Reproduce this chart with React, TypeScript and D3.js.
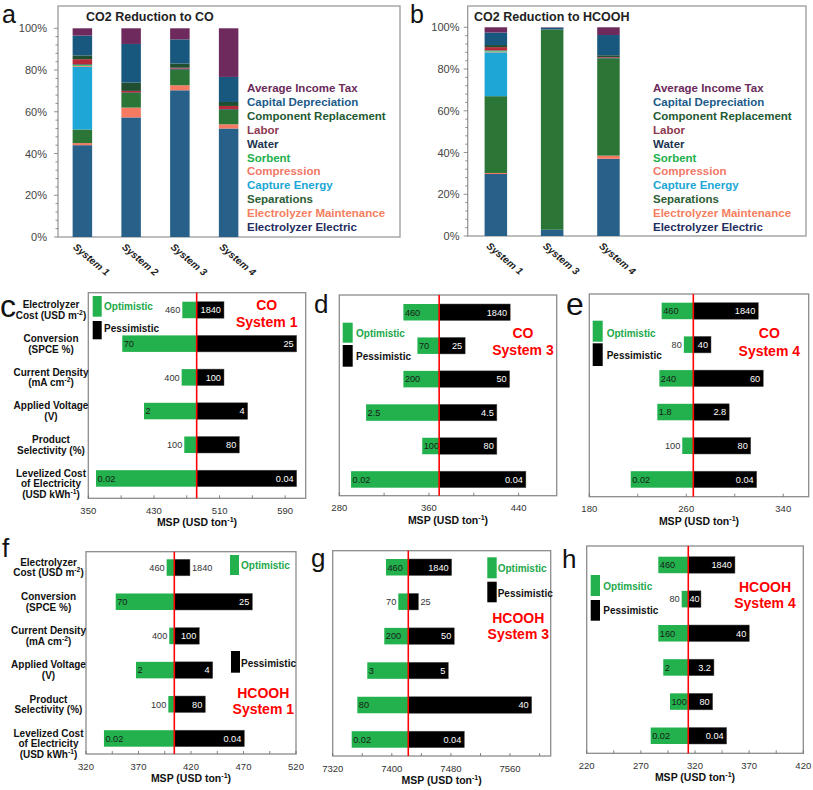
import React from "react";
import * as d3 from "d3";

const FONT = "'Liberation Sans', Arial, Helvetica, sans-serif";

// ---------- Panel a / b data ----------
const costKeys = [
  "Electrolyzer Electric",
  "Electrolyzer Maintenance",
  "Separations",
  "Capture Energy",
  "Compression",
  "Sorbent",
  "Water",
  "Labor",
  "Component Replacement",
  "Capital Depreciation",
  "Average Income Tax",
];
const barColors = ["#27618a", "#f47a62", "#2b7636", "#1ea6d6", "#f08070", "#4cc46a", "#1a3550", "#b72a3a", "#1f4f30", "#18587f", "#6e2a5c"];
const legendColors = ["#1f2d5e", "#f57e60", "#2c5e35", "#1aa7d6", "#f07868", "#22b04b", "#1d3550", "#8c3a50", "#1e5a32", "#1b5b8a", "#6b2a5a"];

const coSystems = ["System 1", "System 2", "System 3", "System 4"];
const coSystem1 = [44, 1, 6.5, 30, 0.4, 0.6, 0.3, 2.4, 1.8, 9.5, 3.5];
const coSystem2 = [57.3, 4.7, 7, 0, 0, 0, 0.3, 0.7, 4, 18.5, 7.5];
const coSystem3 = [70.3, 2.4, 7.5, 0, 0, 0, 0.5, 0.4, 2, 11.6, 5.3];
const coSystem4 = [52, 2, 7, 0, 0, 0, 0.3, 1.5, 1.9, 12, 23.3];

const hcoohSystems = ["System 1", "System 3", "System 4"];
const hcoohSystem1 = [29.7, 0.5, 36.8, 21, 0.3, 0.5, 0.2, 1.5, 1, 6, 2.5];
const hcoohSystem3 = [3, 0, 95.8, 0, 0, 0, 0, 0, 0.2, 0.8, 0.2];
const hcoohSystem4 = [37, 1.5, 46.6, 0, 0, 0, 0.3, 0.3, 0.9, 9.7, 3.7];

const percentTicks = [0, 20, 40, 60, 80, 100];

// ---------- Tornado data ----------
const rowLabels = [
  ["Electrolyzer", "Cost (USD m{-2})"],
  ["Conversion", "(SPCE %)"],
  ["Current Density", "(mA cm{-2})"],
  ["Applied Voltage", "(V)"],
  ["Product", "Selectivity (%)"],
  ["Levelized Cost", "of Electricity", "(USD kWh{-1})"],
];

const cBase = 482.1;
const cOpt = [464.6, 391.4, 463.8, 417.9, 467, 359.4];
const cPess = [515.4, 604, 515.4, 544.3, 534.1, 604];
const cOptLabels = ["460", "70", "400", "2", "100", "0.02"];
const cPessLabels = ["1840", "25", "100", "4", "80", "0.04"];
const cTicks = [350, 430, 510, 590];

const dBase = 369.1;
const dOpt = [337.2, 349.7, 337.2, 303.9, 354.0, 290.5];
const dPess = [432.5, 392.3, 432, 420.6, 420.6, 446.5];
const dOptLabels = ["460", "70", "200", "2.5", "100", "0.02"];
const dPessLabels = ["1840", "25", "50", "4.5", "80", "0.04"];
const dTicks = [280, 360, 440];

const eBase = 265.8;
const eOpt = [239.7, 258, 237.8, 236.1, 256.7, 214.2];
const ePess = [319.4, 280.4, 323.5, 295.4, 313.2, 318.1];
const eOptLabels = ["460", "80", "240", "1.8", "100", "0.02"];
const ePessLabels = ["1840", "40", "60", "2.8", "80", "0.04"];
const eTicks = [180, 260, 340];

const fBase = 404.1;
const fOpt = [396.8, 348.3, 399.3, 367.6, 398.4, 337.1];
const fPess = [419, 478.4, 427.9, 440.7, 433.6, 470.8];
const fOptLabels = ["460", "70", "400", "2", "100", "0.02"];
const fPessLabels = ["1840", "25", "100", "4", "80", "0.04"];
const fTicks = [320, 370, 420, 470, 520];

const gBase = 7422.3;
const gOpt = [7392.1, 7408.8, 7389.8, 7366.8, 7353.3, 7345.7];
const gPess = [7481, 7436, 7484.5, 7476.4, 7589.3, 7498.1];
const gOptLabels = ["460", "70", "200", "3", "80", "0.02"];
const gPessLabels = ["1840", "25", "50", "5", "40", "0.04"];
const gTicks = [7320, 7400, 7480, 7560];

const hBase = 313.8;
const hOpt = [286.1, 307.7, 286.1, 290.7, 296.9, 279.1];
const hPess = [356.9, 325.5, 370.1, 337.5, 336.3, 349.2];
const hOptLabels = ["460", "80", "160", "2", "100", "0.02"];
const hPessLabels = ["1840", "40", "40", "3.2", "80", "0.04"];
const hTicks = [220, 270, 320, 370, 420];

// ---------- helpers ----------
function textW(s: string, fs: number) {
  let w = 0;
  for (const ch of s) w += ch === "." ? 0.278 : 0.556;
  return w * fs;
}

function Rich({ s, fs }: { s: string; fs: number }) {
  const parts = s.split(/(\{[^}]*\})/).filter((p) => p.length > 0);
  let prevSup = false;
  const out: any[] = [];
  parts.forEach((p, i) => {
    if (p.startsWith("{")) {
      out.push(
        <tspan key={i} fontSize={fs * 0.68} dy={-fs * 0.4}>
          {p.slice(1, -1)}
        </tspan>
      );
      prevSup = true;
    } else {
      out.push(
        <tspan key={i} dy={prevSup ? fs * 0.4 : 0}>
          {p}
        </tspan>
      );
      prevSup = false;
    }
  });
  return <>{out}</>;
}

// ---------- stacked panel ----------
function StackPanel(props: any) {
  const { letter, letterX, letterY, title, titleX, systems, shares, left, right, top, bottom, y100, bandStart, step, tickLabelX, legendX } = props;
  const y = d3.scaleLinear().domain([0, 100]).range([bottom, y100]);
  const x = d3
    .scaleBand<string>()
    .domain(systems)
    .range([bandStart, bandStart + step * systems.length])
    .paddingInner(0.6)
    .paddingOuter(0.3);
  const rows = systems.map((s: string, i: number) => {
    const o: any = { system: s };
    costKeys.forEach((k, j) => (o[k] = shares[i][j]));
    return o;
  });
  const series = d3.stack<any>().keys(costKeys)(rows);
  const minor = d3.range(0, 101, 4);
  const legendOrder = costKeys.map((_, i) => i).reverse();
  return (
    <g>
      <text x={letterX} y={letterY} fontSize={25} fill="#111">
        {letter}
      </text>
      <rect x={left} y={top} width={right - left} height={bottom - top} fill="#fff" stroke="#9a9a9a" strokeWidth={1.3} />
      <text x={titleX} y={21} fontSize={12.5} fontWeight="bold" fill="#222">
        CO<tspan>2</tspan> {title}
      </text>
      {series.map((ser, k) =>
        ser.map((d, i) =>
          d[1] - d[0] > 0 ? (
            <rect
              key={`${k}-${i}`}
              x={x(systems[i])}
              y={y(d[1])}
              width={x.bandwidth()}
              height={y(d[0]) - y(d[1])}
              fill={barColors[k]}
            />
          ) : null
        )
      )}
      {minor.map((t) => (
        <line key={"m" + t} x1={left - (t % 20 === 0 ? 4 : 2.5)} x2={left} y1={y(t)} y2={y(t)} stroke="#777" strokeWidth={0.8} />
      ))}
      {percentTicks.map((t) => (
        <text key={"t" + t} x={tickLabelX} y={y(t) + 4} fontSize={11} textAnchor="end" fill="#444">
          {t}%
        </text>
      ))}
      {systems.map((s: string) => {
        const cx = (x(s) as number) + x.bandwidth() / 2;
        return (
          <text key={s} transform={`translate(${cx - 10},${bottom + 11}) rotate(40)`} fontSize={10} fontWeight="bold" fontStyle="italic" fill="#222">
            {s}
          </text>
        );
      })}
      {legendOrder.map((k, i) => (
        <text key={costKeys[k]} x={legendX} y={87.7 + i * 13.96 + 4} fontSize={11.5} fontWeight="bold" fill={legendColors[k]}>
          {costKeys[k]}
        </text>
      ))}
    </g>
  );
}

// ---------- tornado panel ----------
function Tornado(p: any) {
  const x = d3.scaleLinear().domain(p.domain).range([p.left, p.right]);
  const bh = 16.5;
  const stepR = (p.rowBottom - p.rowTop - bh) / 5;
  const y = d3
    .scaleBand<number>()
    .domain(d3.range(6))
    .range([p.rowTop, p.rowBottom])
    .paddingInner(1 - bh / stepR)
    .paddingOuter(0);
  const fs = 9.2;
  const majorStep = p.ticks[1] - p.ticks[0];
  const allTicks = d3.range(p.domain[0], p.domain[1] + 0.001, majorStep / 2);
  const xb = x(p.base);
  const legend = p.legend;
  return (
    <g>
      <text x={p.letterX} y={p.letterY} fontSize={p.letterSize} fill="#111">
        {p.letter}
      </text>
      <rect x={p.left} y={p.top} width={p.right - p.left} height={p.bottom - p.top} fill="#fff" stroke="#8c8c8c" strokeWidth={1.3} />
      {allTicks.map((t: number) => (
        <line key={"tk" + t} x1={x(t)} x2={x(t)} y1={p.bottom} y2={p.bottom - 3} stroke="#666" strokeWidth={0.8} />
      ))}
      {p.ticks.map((t: number) => (
        <text key={"tl" + t} x={x(t)} y={p.bottom + 15.5} fontSize={9.5} textAnchor="middle" fill="#333">
          {t}
        </text>
      ))}
      <text x={(p.left + p.right) / 2} y={p.bottom + 28} fontSize={10.5} fontWeight="bold" textAnchor="middle" fill="#111">
        <Rich s="MSP (USD ton{-1})" fs={10.5} />
      </text>
      {p.opt.map((v: number, i: number) => {
        const yy = y(i) as number;
        const x0 = x(v);
        const w = xb - x0;
        const lab = p.optLabels[i];
        const tw = textW(lab, 9);
        const inside = w >= tw + 1;
        return (
          <g key={"o" + i}>
            <rect x={x0} y={yy} width={w} height={y.bandwidth()} fill="#22b14c" />
            <text
              x={inside ? x0 + 1.5 : x0 - 2}
              y={yy + y.bandwidth() / 2 + 3.3}
              fontSize={fs}
              textAnchor={inside ? "start" : "end"}
              fill={inside ? "#1a1a1a" : "#333"}
            >
              {lab}
            </text>
          </g>
        );
      })}
      {p.pess.map((v: number, i: number) => {
        const yy = y(i) as number;
        const x1 = x(v);
        const w = x1 - xb;
        const lab = p.pessLabels[i];
        const tw = textW(lab, 9);
        const inside = w >= tw + 2;
        const tx = !inside ? x1 + 2 : w >= tw + 6 ? x1 - 3 : xb + w / 2;
        const anchor = !inside ? "start" : w >= tw + 6 ? "end" : "middle";
        return (
          <g key={"p" + i}>
            <rect x={xb} y={yy} width={w} height={y.bandwidth()} fill="#000" stroke="#555" strokeWidth={0.5} />
            <text x={tx} y={yy + y.bandwidth() / 2 + 3.3} fontSize={fs} textAnchor={anchor} fill={inside ? "#fff" : "#333"}>
              {lab}
            </text>
          </g>
        );
      })}
      <line x1={xb} x2={xb} y1={p.top} y2={p.bottom} stroke="#ff0000" strokeWidth={1.6} />
      {p.showRowLabels &&
        rowLabels.map((lines, i) => {
          const cy = (y(i) as number) + y.bandwidth() / 2;
          return lines.map((ln, j) => (
            <text key={`rl${i}-${j}`} x={p.rowLabelX} y={cy - 1.7 + j * 10.6} fontSize={10} fontWeight="bold" textAnchor="middle" fill="#111">
              <Rich s={ln} fs={10} />
            </text>
          ));
        })}
      <rect x={legend.gx} y={legend.gy} width={legend.gw} height={legend.gh} fill="#22b14c" />
      <text x={legend.tx} y={legend.ty1} fontSize={10} fontWeight="bold" fill="#22a84a">
        {p.optName}
      </text>
      <rect x={legend.bx} y={legend.by} width={legend.gw} height={legend.bh} fill="#000" />
      <text x={legend.tx} y={legend.ty2} fontSize={10} fontWeight="bold" fill="#111">
        Pessimistic
      </text>
      {p.title.map((t: string, i: number) => (
        <text key={t} x={p.titleX} y={p.titleY[i]} fontSize={14} fontWeight="bold" textAnchor="middle" fill="#ff0000">
          {t}
        </text>
      ))}
    </g>
  );
}

export default function App() {
  return (
    <svg
      width={813}
      height={790}
      viewBox="0 0 813 790"
      style={{ position: "absolute", left: 0, top: 0, display: "block", background: "#fff" }}
      fontFamily={FONT}
    >
      <rect width={813} height={790} fill="#fff" />
      <StackPanel
        letter="a"
        letterX={2}
        letterY={23}
        title="Reduction to CO"
        titleX={86}
        systems={coSystems}
        shares={[coSystem1, coSystem2, coSystem3, coSystem4]}
        left={58}
        right={400}
        top={6}
        bottom={237}
        y100={28.3}
        bandStart={58}
        step={48.75}
        tickLabelX={47}
        legendX={247}
      />
      <StackPanel
        letter="b"
        letterX={410}
        letterY={23}
        title="Reduction to HCOOH"
        titleX={474}
        systems={hcoohSystems}
        shares={[hcoohSystem1, hcoohSystem3, hcoohSystem4]}
        left={467.7}
        right={806}
        top={6}
        bottom={236}
        y100={27.3}
        bandStart={467.7}
        step={56.3}
        tickLabelX={459.5}
        legendX={653}
      />
      <Tornado
        letter="c" letterX={0} letterY={317} letterSize={32}
        left={88.3} right={305.7} top={292.7} bottom={498.3}
        domain={[350, 615]} ticks={cTicks} base={cBase}
        opt={cOpt} pess={cPess} optLabels={cOptLabels} pessLabels={cPessLabels}
        rowTop={301.7} rowBottom={486.7} showRowLabels rowLabelX={51}
        legend={{ gx: 92.7, gy: 296, gw: 9, gh: 20.7, ty1: 309.5, bx: 92.7, by: 321, bh: 18.3, ty2: 332.3, tx: 104 }}
        optName="Optimistic"
        title={["CO", "System 1"]} titleX={266.7} titleY={[310, 326.5]}
      />
      <Tornado
        letter="d" letterX={314} letterY={313.3} letterSize={26}
        left={339.3} right={556.7} top={295} bottom={495.7}
        domain={[280, 474]} ticks={dTicks} base={dBase}
        opt={dOpt} pess={dPess} optLabels={dOptLabels} pessLabels={dPessLabels}
        rowTop={304} rowBottom={487.7}
        legend={{ gx: 342.7, gy: 322.7, gw: 10, gh: 20, ty1: 336.8, bx: 342.7, by: 345, bh: 21.7, ty2: 360.2, tx: 356 }}
        optName="Optimistic"
        title={["CO", "System 3"]} titleX={523} titleY={[338.3, 355]}
      />
      <Tornado
        letter="e" letterX={566} letterY={315} letterSize={32}
        left={589.3} right={808.7} top={294} bottom={496.7}
        domain={[180, 361]} ticks={eTicks} base={eBase}
        opt={eOpt} pess={ePess} optLabels={eOptLabels} pessLabels={ePessLabels}
        rowTop={302.7} rowBottom={487.7}
        legend={{ gx: 592.7, gy: 320.7, gw: 10, gh: 21, ty1: 336.8, bx: 592.7, by: 343.3, bh: 22.7, ty2: 358.5, tx: 606.7 }}
        optName="Optimistic"
        title={["CO", "System 4"]} titleX={769.3} titleY={[338.3, 356]}
      />
      <Tornado
        letter="f" letterX={2} letterY={556.7} letterSize={26}
        left={86} right={296} top={551.7} bottom={754}
        domain={[320, 520]} ticks={fTicks} base={fBase}
        opt={fOpt} pess={fPess} optLabels={fOptLabels} pessLabels={fPessLabels}
        rowTop={559.3} rowBottom={746.7} showRowLabels rowLabelX={48.5}
        legend={{ gx: 230, gy: 555, gw: 9, gh: 20, ty1: 569.2, bx: 231, by: 651, bh: 21.7, ty2: 666.8, tx: 241 }}
        optName="Optimistic"
        title={["HCOOH", "System 1"]} titleX={263.3} titleY={[698.3, 714.3]}
      />
      <Tornado
        letter="g" letterX={311} letterY={566.5} letterSize={26}
        left={332.7} right={550.7} top={550.7} bottom={756}
        domain={[7320, 7615]} ticks={gTicks} base={gBase}
        opt={gOpt} pess={gPess} optLabels={gOptLabels} pessLabels={gPessLabels}
        rowTop={559} rowBottom={747.7}
        legend={{ gx: 487.3, gy: 557.3, gw: 9.4, gh: 21, ty1: 571.8, bx: 487.3, by: 581.7, bh: 20.6, ty2: 596.8, tx: 497.7 }}
        optName="Optimistic"
        title={["HCOOH", "System 3"]} titleX={518.3} titleY={[623.3, 639.3]}
      />
      <Tornado
        letter="h" letterX={562} letterY={568} letterSize={26}
        left={586.7} right={803.3} top={546} bottom={753.3}
        domain={[220, 420]} ticks={hTicks} base={hBase}
        opt={hOpt} pess={hPess} optLabels={hOptLabels} pessLabels={hPessLabels}
        rowTop={556.7} rowBottom={744}
        legend={{ gx: 590.7, gy: 575, gw: 9.3, gh: 21, ty1: 590.2, bx: 590.7, by: 600, bh: 20.7, ty2: 614.2, tx: 603.3 }}
        optName="Optimsitic"
        title={["HCOOH", "System 4"]} titleX={765} titleY={[591.7, 608.3]}
      />
    </svg>
  );
}
